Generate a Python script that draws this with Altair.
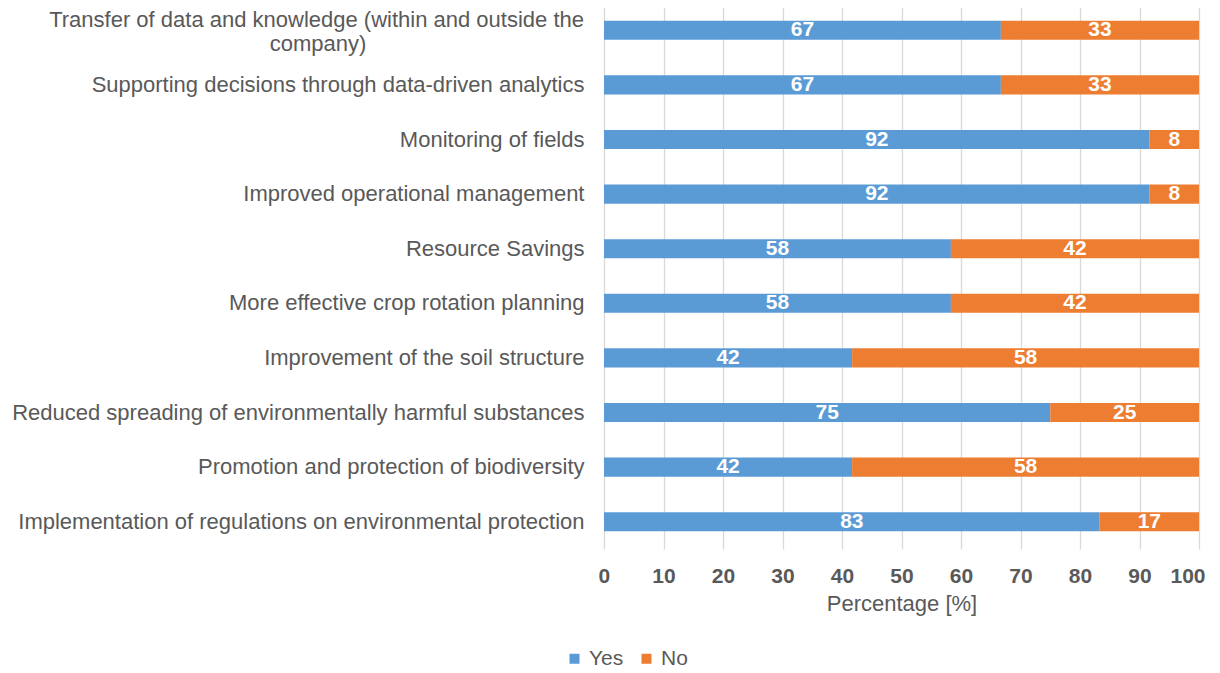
import altair as alt
import pandas as pd

categories = [
    "Transfer of data and knowledge (within and outside the company)",
    "Supporting decisions through data-driven analytics",
    "Monitoring of fields",
    "Improved operational management\u00a0",
    "Resource Savings",
    "More effective crop rotation planning\u00a0",
    "Improvement of the soil structure",
    "Reduced spreading of environmentally harmful substances\u00a0",
    "Promotion and protection of biodiversity\u00a0",
    "Implementation of regulations on environmental protection",
]
yes_values = [66.7, 66.7, 91.7, 91.7, 58.3, 58.3, 41.7, 75.0, 41.7, 83.3]
no_values = [33.3, 33.3, 8.3, 8.3, 41.7, 41.7, 58.3, 25.0, 58.3, 16.7]
series = ["Yes", "No"]
colors = ["#5B9BD5", "#ED7D31"]
x_ticks = list(range(0, 101, 10))

# the first category label is wrapped on two lines
first = categories[0]
wrapped_lines = ["Transfer of data and knowledge (within and outside the", "company)"]

rows = []
for c, y, n in zip(categories, yes_values, no_values):
    rows.append({"category": c, "answer": "Yes", "order": 0, "value": y})
    rows.append({"category": c, "answer": "No", "order": 1, "value": n})
df = pd.DataFrame(rows)

GRAY = "#595959"
FONT = "Liberation Sans"

yscale = alt.Scale(domain=categories, paddingInner=0.65, paddingOuter=0.325)

y_enc = alt.Y(
    "category:N",
    scale=yscale,
    sort=categories,
    axis=alt.Axis(
        title=None,
        domain=False,
        ticks=False,
        labelFontSize=22,
        labelColor=GRAY,
        labelFont=FONT,
        labelPadding=20,
        labelLimit=700,
        labelExpr=f"datum.value == '{first}' ? '' : datum.value",
    ),
)

base = alt.Chart(df).transform_stack(
    stack="value",
    groupby=["category"],
    sort=[alt.SortField("order", order="ascending")],
    as_=["x0", "x1"],
).transform_calculate(
    mid="(datum.x0 + datum.x1) / 2",
    label="format(datum.value, '.0f')",
)

xscale = alt.Scale(domain=[0, 100], nice=False)

bars = base.mark_bar().encode(
    x=alt.X(
        "x0:Q",
        scale=xscale,
        axis=alt.Axis(
            values=x_ticks,
            title="Percentage [%]",
            grid=True,
            gridColor="#D9D9D9",
            gridWidth=1.3,
            domain=False,
            ticks=False,
            labelFlush=True,
            labelFlushOffset=6,
            labelFontSize=21,
            labelFontWeight="bold",
            labelColor=GRAY,
            labelFont=FONT,
            labelPadding=16,
            titleFontSize=22,
            titleFontWeight="normal",
            titleColor=GRAY,
            titleFont=FONT,
            titlePadding=7,
        ),
    ),
    x2="x1:Q",
    y=y_enc,
    color=alt.Color(
        "answer:N",
        scale=alt.Scale(domain=series, range=colors),
        sort=series,
        legend=alt.Legend(
            title=None,
            orient="none",
            direction="horizontal",
            legendX=-40,
            legendY=645,
            symbolType="square",
            symbolSize=100,
            symbolStrokeWidth=0,
            labelFontSize=21,
            labelColor=GRAY,
            labelFont=FONT,
            columnPadding=12,
            labelOffset=4,
        ),
    ),
    order=alt.Order("order:Q"),
)

texts = base.mark_text(
    color="white", fontWeight="bold", fontSize=21, font=FONT, baseline="middle", align="center"
).encode(
    x=alt.X("mid:Q", scale=xscale),
    y=alt.Y("category:N", scale=yscale, sort=categories),
    text="label:N",
)

line1_df = pd.DataFrame({"category": [first], "line": [wrapped_lines[0]]})
line2_df = pd.DataFrame({"category": [first], "line": [wrapped_lines[1]]})

line1 = alt.Chart(line1_df).mark_text(
    align="right", baseline="middle", fontSize=22, font=FONT, color=GRAY, dy=-10
).encode(
    x=alt.value(-20),
    y=alt.Y("category:N", scale=yscale, sort=categories),
    text="line:N",
)
line2 = alt.Chart(line2_df).mark_text(
    align="center", baseline="middle", fontSize=22, font=FONT, color=GRAY, dy=14
).encode(
    x=alt.value(-286),
    y=alt.Y("category:N", scale=yscale, sort=categories),
    text="line:N",
)

chart = alt.layer(bars, texts, line1, line2).properties(
    width=595,
    height=546,
    autosize=alt.AutoSizeParams(type="none"),
    padding={"left": 596, "top": -5, "right": 12, "bottom": 122},
).configure_view(stroke=None)

chart.save("out.html", embed_options={"renderer": "svg", "actions": False})
